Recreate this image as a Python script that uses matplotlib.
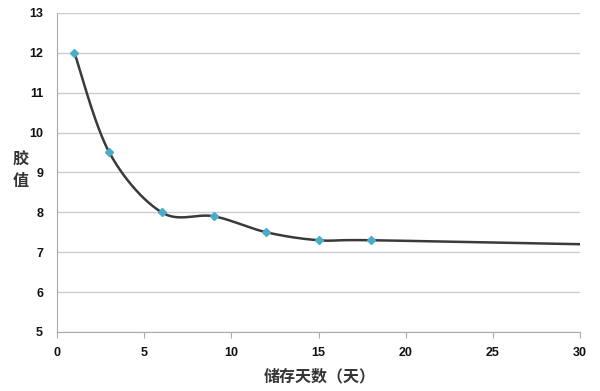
import numpy as np
import matplotlib.pyplot as plt

# data
days = [1, 3, 6, 9, 12, 15, 18, 30]
values = [12.0, 9.5, 8.0, 7.9, 7.5, 7.3, 7.3, 7.2]
marked = 7  # the last point has no marker

plt.rcParams['font.family'] = ['Liberation Sans', 'Noto Sans CJK SC', 'DejaVu Sans']


def smooth(x, y, n=40):
    # Catmull-Rom / Bezier smoothing like Excel's "smoothed line"
    p = np.column_stack([x, y]).astype(float)
    p = np.vstack([p[0], p, p[-1]])
    out = []
    for i in range(1, len(p) - 2):
        p0, p1, p2, p3 = p[i - 1], p[i], p[i + 1], p[i + 2]
        c1 = p1 + (p2 - p0) / 6
        c2 = p2 - (p3 - p1) / 6
        t = np.linspace(0, 1, n)[:, None]
        seg = ((1 - t) ** 3 * p1 + 3 * (1 - t) ** 2 * t * c1
               + 3 * (1 - t) * t ** 2 * c2 + t ** 3 * p2)
        out.append(seg)
    out = np.vstack(out)
    return out[:, 0], out[:, 1]


fig = plt.figure(figsize=(6, 3.91), dpi=100)
ax = fig.add_axes([0.095, 0.151, 0.872, 0.816])

sx, sy = smooth(days, values)
ax.plot(sx, sy, color='#3a3a3a', linewidth=1.8, zorder=3)
ax.plot(days[:marked], values[:marked], linestyle='none', marker='D',
        markersize=4.5, color='#4bacc6', markeredgecolor='#4bacc6', zorder=4)

ax.set_xlim(0, 30)
ax.set_ylim(5, 13)
ax.set_xticks(range(0, 31, 5))
ax.set_yticks(range(5, 14))
ax.grid(axis='y', color='#cccccc', linewidth=1)
ax.set_axisbelow(True)

for s in ['top', 'right']:
    ax.spines[s].set_visible(False)
for s in ['left', 'bottom']:
    ax.spines[s].set_color('#aaaaaa')
ax.tick_params(axis='x', direction='out', length=4, color='#aaaaaa', pad=7)
ax.tick_params(axis='y', length=0, pad=10)
for lbl in ax.get_xticklabels() + ax.get_yticklabels():
    lbl.set_fontsize(9)
    lbl.set_fontweight('bold')
    lbl.set_color('#111111')

ax.set_xlabel('储存天数（天）', fontsize=11.5, fontweight='bold',
              family=['Noto Sans CJK SC'], color='#333333')
ax.xaxis.set_label_coords(0.503, -0.115)
fig.text(0.034, 0.565, '胶\n值', fontsize=11.5, fontweight='bold',
         family=['Noto Sans CJK SC'], color='#333333', ha='center',
         va='center', linespacing=1.4)

fig.savefig('out.png', dpi=100)
